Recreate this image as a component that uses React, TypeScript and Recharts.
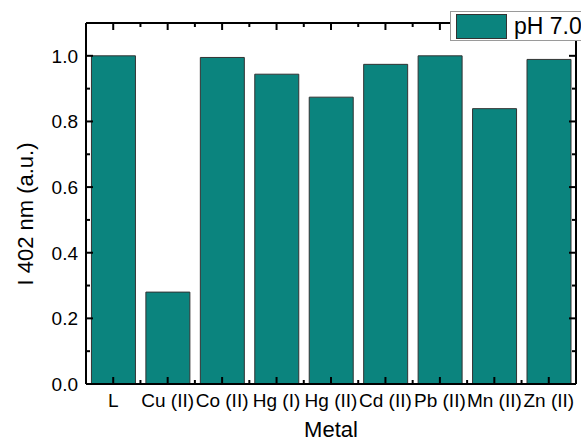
import React from "react";
import { BarChart, Bar, XAxis, YAxis, Label } from "recharts";

const METALS = ["L", "Cu (II)", "Co (II)", "Hg (I)", "Hg (II)", "Cd (II)", "Pb (II)", "Mn (II)", "Zn (II)"];
const INTENSITY = [1.0, 0.28, 0.995, 0.944, 0.874, 0.974, 1.0, 0.839, 0.989];
const Y_TICKS = [0, 0.1, 0.2, 0.3, 0.4, 0.5, 0.6, 0.7, 0.8, 0.9, 1.0];
const Y_DOMAIN = [0, 1.1];
const SERIES_NAME = "pH 7.0";

const W = 581;
const H = 444;
const PLOT_LEFT = 86;
const PLOT_RIGHT = 576;
const PLOT_TOP = 23;
const PLOT_BOTTOM = 384;
const HALF_BAND = (PLOT_RIGHT - PLOT_LEFT) / METALS.length / 2;

const TEAL = "#0b847e";
const FONT = "'Liberation Sans', Arial, sans-serif";
const TICK_FONT = 19;
const MAJOR = 7;
const MINOR = 4;

const data = METALS.map((name, i) => ({ name, value: INTENSITY[i] }));

const isMajor = (v: number) => Math.round(v * 10) % 2 === 0;

// category ticks point inward on both the bottom and top edges of the frame
const CategoryTick = ({ x, payload, index }: any) => {
  const hasMinor = index < METALS.length - 1;
  const mx = x + HALF_BAND;
  return (
    <g>
      <line x1={x} x2={x} y1={PLOT_BOTTOM} y2={PLOT_BOTTOM - MAJOR} stroke="#000" strokeWidth={2} />
      <line x1={x} x2={x} y1={PLOT_TOP} y2={PLOT_TOP + MAJOR} stroke="#000" strokeWidth={2} />
      {hasMinor && <line x1={mx} x2={mx} y1={PLOT_BOTTOM} y2={PLOT_BOTTOM - MINOR} stroke="#000" strokeWidth={2} />}
      {hasMinor && <line x1={mx} x2={mx} y1={PLOT_TOP} y2={PLOT_TOP + MINOR} stroke="#000" strokeWidth={2} />}
      <text x={x} y={PLOT_BOTTOM + 23} textAnchor="middle" fontSize={TICK_FONT} fill="#000" fontFamily={FONT}>
        {payload.value}
      </text>
    </g>
  );
};

// value ticks on the left and right edges, labels on the left only
const ValueTick = ({ y, payload }: any) => {
  const len = isMajor(payload.value) ? MAJOR : MINOR;
  return (
    <g>
      <line x1={PLOT_LEFT} x2={PLOT_LEFT + len} y1={y} y2={y} stroke="#000" strokeWidth={2} />
      <line x1={PLOT_RIGHT} x2={PLOT_RIGHT - len} y1={y} y2={y} stroke="#000" strokeWidth={2} />
      {isMajor(payload.value) && (
        <text x={PLOT_LEFT - 8} y={y + 7} textAnchor="end" fontSize={TICK_FONT} fill="#000" fontFamily={FONT}>
          {payload.value.toFixed(1)}
        </text>
      )}
    </g>
  );
};

const layer: React.CSSProperties = { position: "absolute", left: 0, top: 0 };

export default function App() {
  return (
    <div style={{ position: "absolute", left: 0, top: 0, width: W, height: H, background: "#fff", overflow: "hidden" }}>
      {/* bars underneath */}
      <div style={layer}>
        <BarChart
          width={W}
          height={H}
          data={data}
          margin={{ top: PLOT_TOP, right: W - PLOT_RIGHT, bottom: H - PLOT_BOTTOM, left: PLOT_LEFT }}
          barCategoryGap="10%"
        >
          <XAxis dataKey="name" hide />
          <YAxis domain={Y_DOMAIN} hide />
          <Bar dataKey="value" fill={TEAL} stroke="#333" strokeWidth={1} isAnimationActive={false} />
        </BarChart>
      </div>

      {/* frame, ticks and titles drawn over the bars */}
      <div style={layer}>
        <BarChart width={W} height={H} data={data} margin={{ top: 0, right: 0, bottom: 0, left: 0 }} barCategoryGap="10%">
          <Bar dataKey="value" fill="none" stroke="none" isAnimationActive={false} />
          <XAxis
            dataKey="name"
            height={H - PLOT_BOTTOM}
            interval={0}
            tickLine={false}
            axisLine={{ stroke: "#000", strokeWidth: 2 }}
            tick={<CategoryTick />}
          >
            <Label
              content={() => (
                <text x={(PLOT_LEFT + PLOT_RIGHT) / 2} y={437} textAnchor="middle" fontSize={22} fill="#000" fontFamily={FONT}>
                  Metal
                </text>
              )}
            />
          </XAxis>
          <XAxis
            xAxisId="top"
            dataKey="name"
            orientation="top"
            height={PLOT_TOP}
            tick={false}
            tickLine={false}
            axisLine={{ stroke: "#000", strokeWidth: 2 }}
          />
          <YAxis
            width={PLOT_LEFT}
            domain={Y_DOMAIN}
            ticks={Y_TICKS}
            interval={0}
            tickLine={false}
            axisLine={{ stroke: "#000", strokeWidth: 2 }}
            tick={<ValueTick />}
          >
            <Label
              content={() => (
                <text
                  x={33}
                  y={214}
                  textAnchor="middle"
                  fontSize={22}
                  fill="#000"
                  fontFamily={FONT}
                  transform="rotate(-90 33 214)"
                >
                  I 402 nm (a.u.)
                </text>
              )}
            />
          </YAxis>
          <YAxis
            yAxisId="right"
            orientation="right"
            width={W - PLOT_RIGHT}
            domain={Y_DOMAIN}
            tick={false}
            tickLine={false}
            axisLine={{ stroke: "#000", strokeWidth: 2 }}
          />
        </BarChart>
      </div>

      {/* legend box sits over the top-right corner of the frame */}
      <div
        style={{
          position: "absolute",
          left: 450,
          top: 11,
          width: 140,
          height: 28,
          background: "#fff",
          border: "1px solid #9a9a9a",
          display: "flex",
          alignItems: "center",
          fontFamily: FONT,
        }}
      >
        <div style={{ marginLeft: 5, width: 49, height: 23, background: TEAL, border: "1px solid #333" }} />
        <span style={{ marginLeft: 7, fontSize: 23, color: "#000", lineHeight: "23px" }}>{SERIES_NAME}</span>
      </div>
    </div>
  );
}
